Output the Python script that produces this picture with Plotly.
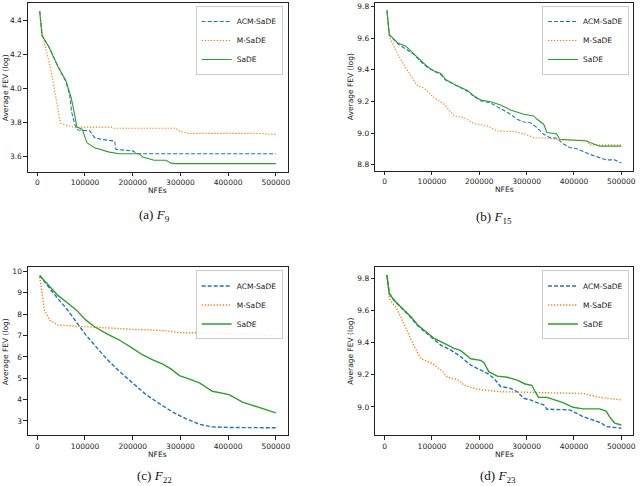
import plotly.graph_objects as go

# ---------------- data ----------------
# (a) F9
f9_sade_nfe = [5000, 10000, 25000, 43000, 60000, 71000, 78000, 83000, 94000, 104000, 120000, 151000, 172000, 214000, 221000, 245000, 270000, 280000, 290000, 500000]
f9_sade_val = [4.455, 4.31, 4.24, 4.13, 4.045, 3.945, 3.85, 3.772, 3.76, 3.68, 3.65, 3.625, 3.615, 3.615, 3.596, 3.577, 3.577, 3.56, 3.557, 3.557]
f9_acm_nfe = [5000, 10000, 25000, 43000, 60000, 68000, 72000, 80000, 85000, 99000, 110000, 120000, 134000, 162000, 165000, 200000, 210000, 500000]
f9_acm_val = [4.455, 4.31, 4.24, 4.13, 4.04, 3.96, 3.86, 3.775, 3.755, 3.752, 3.75, 3.71, 3.70, 3.69, 3.641, 3.632, 3.615, 3.615]
f9_m_nfe = [5000, 12000, 19000, 26000, 33000, 40000, 47000, 50000, 75000, 155000, 160000, 290000, 298000, 315000, 465000, 500000]
f9_m_val = [4.455, 4.30, 4.22, 4.14, 4.04, 3.925, 3.818, 3.792, 3.772, 3.772, 3.765, 3.765, 3.749, 3.735, 3.735, 3.729]

# (b) F15
f15_sade_nfe = [5000, 10000, 28000, 45000, 63000, 77000, 91000, 105000, 119000, 129000, 154000, 175000, 189000, 203000, 224000, 245000, 266000, 294000, 315000, 322000, 336000, 343000, 363000, 370000, 398000, 426000, 447000, 454000, 500000]
f15_sade_val = [9.77, 9.623, 9.57, 9.55, 9.497, 9.455, 9.419, 9.392, 9.377, 9.339, 9.297, 9.27, 9.234, 9.209, 9.198, 9.177, 9.146, 9.119, 9.108, 9.087, 9.056, 9.003, 8.996, 8.961, 8.955, 8.950, 8.925, 8.917, 8.917]
f15_acm_nfe = [5000, 10000, 28000, 42000, 63000, 77000, 91000, 105000, 119000, 129000, 154000, 175000, 189000, 203000, 224000, 238000, 266000, 280000, 294000, 308000, 322000, 336000, 350000, 363000, 377000, 391000, 405000, 433000, 454000, 468000, 486000, 500000]
f15_acm_val = [9.78, 9.62, 9.565, 9.539, 9.495, 9.45, 9.415, 9.39, 9.37, 9.335, 9.295, 9.265, 9.23, 9.205, 9.19, 9.165, 9.119, 9.087, 9.07, 9.065, 9.034, 8.992, 8.971, 8.967, 8.933, 8.908, 8.902, 8.866, 8.845, 8.830, 8.830, 8.81]
f15_m_nfe = [5000, 10000, 28000, 49000, 70000, 84000, 105000, 126000, 147000, 168000, 189000, 217000, 238000, 273000, 294000, 315000, 350000, 370000, 426000, 433000, 500000]
f15_m_val = [9.77, 9.61, 9.497, 9.392, 9.297, 9.283, 9.223, 9.182, 9.108, 9.097, 9.06, 9.045, 9.013, 9.01, 8.996, 8.971, 8.967, 8.955, 8.955, 8.925, 8.925]

# (c) F22
f22_sade_nfe = [5000, 26000, 43000, 61000, 82000, 102000, 120000, 144000, 172000, 200000, 221000, 242000, 263000, 280000, 298000, 319000, 340000, 367000, 385000, 402000, 430000, 451000, 472000, 500000]
f22_sade_val = [9.81, 9.27, 8.88, 8.57, 8.19, 7.72, 7.41, 7.10, 6.79, 6.40, 6.09, 5.86, 5.66, 5.44, 5.12, 4.96, 4.78, 4.39, 4.31, 4.23, 3.88, 3.72, 3.58, 3.38]
f22_acm_nfe = [5000, 26000, 43000, 61000, 82000, 102000, 123000, 144000, 172000, 200000, 228000, 256000, 284000, 312000, 340000, 367000, 409000, 500000]
f22_acm_val = [9.81, 9.20, 8.73, 8.27, 7.65, 7.02, 6.48, 5.94, 5.32, 4.78, 4.23, 3.81, 3.41, 3.10, 2.84, 2.72, 2.69, 2.68]
f22_m_nfe = [5000, 8000, 10000, 15000, 26000, 43000, 82000, 130000, 160000, 200000, 270000, 298000, 340000, 410000, 479000, 500000]
f22_m_val = [9.75, 9.25, 8.96, 8.19, 7.72, 7.49, 7.44, 7.38, 7.33, 7.29, 7.23, 7.13, 7.13, 7.08, 7.04, 7.02]

# (d) F23
f23_sade_nfe = [5000, 10000, 20000, 42000, 56000, 70000, 91000, 105000, 126000, 147000, 161000, 182000, 203000, 210000, 220000, 238000, 259000, 280000, 297000, 311000, 318000, 325000, 343000, 377000, 398000, 419000, 454000, 468000, 475000, 486000, 500000]
f23_sade_val = [9.82, 9.705, 9.664, 9.60, 9.56, 9.51, 9.46, 9.426, 9.395, 9.364, 9.35, 9.30, 9.29, 9.275, 9.22, 9.192, 9.185, 9.167, 9.143, 9.135, 9.095, 9.06, 9.06, 9.027, 8.998, 8.988, 8.988, 8.975, 8.94, 8.90, 8.888]
f23_acm_nfe = [5000, 10000, 20000, 42000, 56000, 70000, 91000, 105000, 119000, 140000, 161000, 182000, 196000, 217000, 231000, 245000, 266000, 280000, 294000, 308000, 322000, 336000, 343000, 391000, 405000, 419000, 440000, 458000, 468000, 489000, 500000]
f23_acm_val = [9.82, 9.705, 9.664, 9.60, 9.555, 9.505, 9.455, 9.42, 9.385, 9.354, 9.312, 9.26, 9.24, 9.209, 9.178, 9.127, 9.116, 9.095, 9.054, 9.044, 9.027, 9.013, 8.986, 8.982, 8.961, 8.940, 8.919, 8.90, 8.878, 8.872, 8.868]
f23_m_nfe = [5000, 10000, 28000, 42000, 63000, 77000, 101000, 119000, 133000, 154000, 168000, 189000, 210000, 245000, 294000, 350000, 419000, 454000, 500000]
f23_m_val = [9.82, 9.674, 9.60, 9.51, 9.375, 9.30, 9.27, 9.23, 9.184, 9.17, 9.136, 9.116, 9.105, 9.095, 9.09, 9.088, 9.084, 9.06, 9.044]

series_names = ["ACM-SaDE", "M-SaDE", "SaDE"]
x_ticks = [0, 100000, 200000, 300000, 400000, 500000]
captions = ["(a) <i>F</i><sub>9</sub>", "(b) <i>F</i><sub>15</sub>",
            "(c) <i>F</i><sub>22</sub>", "(d) <i>F</i><sub>23</sub>"]

panels = [
    [(f9_acm_nfe, f9_acm_val), (f9_m_nfe, f9_m_val), (f9_sade_nfe, f9_sade_val)],
    [(f15_acm_nfe, f15_acm_val), (f15_m_nfe, f15_m_val), (f15_sade_nfe, f15_sade_val)],
    [(f22_acm_nfe, f22_acm_val), (f22_m_nfe, f22_m_val), (f22_sade_nfe, f22_sade_val)],
    [(f23_acm_nfe, f23_acm_val), (f23_m_nfe, f23_m_val), (f23_sade_nfe, f23_sade_val)],
]

# ---------------- layout geometry ----------------
W, H = 640, 486
FONT = "DejaVu Sans"
colors = ["#1f77b4", "#ff7f0e", "#2ca02c"]
dashes = ["4px,2px", "1.3px,1.7px", "solid"]

# pixel boxes (left, right, top, bottom)
boxes = [(28, 289, 2, 171), (377, 636, 2, 170), (28, 289, 267, 435), (377, 636, 267, 435)]
y_ranges = [[3.51, 4.502], [8.762, 9.823], [2.335, 10.19], [8.825, 9.868]]
y_ticks = [[3.6, 3.8, 4.0, 4.2, 4.4], [8.8, 9.0, 9.2, 9.4, 9.6, 9.8],
           [3, 4, 5, 6, 7, 8, 9, 10], [9.0, 9.2, 9.4, 9.6, 9.8]]
y_fmt = [".1f", ".1f", "d", ".1f"]
legend_pos = [(284, 5), (632, 5), (284, 270), (632, 270)]
ytitle_x = [5, 352, 5, 352]
caption_pos = [(155, 215), (496, 217), (155, 476), (500, 476)]
line_w = [1.1, 1.1, 1.4, 1.4]

fig = go.Figure()
layout = dict(width=W, height=H, margin=dict(l=0, r=0, t=0, b=0),
              paper_bgcolor="white", plot_bgcolor="white",
              font=dict(family=FONT, size=8, color="#222"), annotations=[])

for i, (panel, box) in enumerate(zip(panels, boxes)):
    k = "" if i == 0 else str(i + 1)
    lg = "legend" if i == 0 else f"legend{i + 1}"
    for j, (nfe, val) in enumerate(panel):
        fig.add_trace(go.Scatter(
            x=nfe, y=val, mode="lines", name=series_names[j],
            xaxis="x" + k, yaxis="y" + k, legend=lg,
            line=dict(color=colors[j], width=line_w[i], dash=dashes[j])))
    l, r, t, b = box
    axcommon = dict(showline=True, mirror=True, linecolor="#222", linewidth=0.9,
                    ticks="outside", ticklen=3.5, tickwidth=0.8, tickcolor="#222",
                    showgrid=False, zeroline=False,
                    tickfont=dict(family=FONT, size=7.5, color="#222"))
    layout["xaxis" + k] = dict(domain=[l / W, r / W], range=[-19750, 524750],
                               anchor="y" + k, tickvals=x_ticks, tickformat="d", **axcommon)
    layout["yaxis" + k] = dict(domain=[1 - b / H, 1 - t / H], range=y_ranges[i],
                               anchor="x" + k, tickvals=y_ticks[i], tickformat=y_fmt[i], **axcommon)
    lx, ly = legend_pos[i]
    layout[lg] = dict(x=lx / W, y=1 - ly / H, xanchor="right", yanchor="top",
                      bgcolor="rgba(255,255,255,0.85)", bordercolor="#cccccc", borderwidth=1,
                      font=dict(family=FONT, size=7.5, color="#222"),
                      itemwidth=30, tracegroupgap=0)
    # axis titles
    layout["annotations"].append(dict(
        text="Average FEV (log)", textangle=-90, xref="paper", yref="paper",
        x=ytitle_x[i] / W, y=1 - ((t + b) / 2) / H, showarrow=False,
        xanchor="center", yanchor="middle", font=dict(family=FONT, size=7.5, color="#222")))
    layout["annotations"].append(dict(
        text="NFEs", xref="paper", yref="paper",
        x=((l + r) / 2) / W, y=1 - (b + 19) / H, showarrow=False,
        xanchor="center", yanchor="middle", font=dict(family=FONT, size=7.5, color="#222")))
    cx, cy = caption_pos[i]
    layout["annotations"].append(dict(
        text=captions[i], xref="paper", yref="paper", x=cx / W, y=1 - cy / H,
        showarrow=False, xanchor="center", yanchor="middle",
        font=dict(family="Liberation Serif", size=13, color="#111")))

fig.update_layout(**layout)
fig.write_html("out.html")
